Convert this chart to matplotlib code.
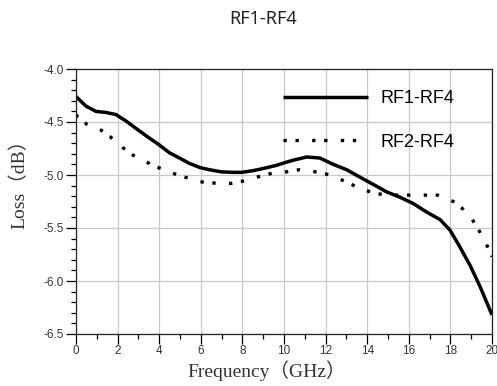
import matplotlib
matplotlib.use("Agg")
import matplotlib.pyplot as plt
from matplotlib.ticker import MultipleLocator, FormatStrFormatter

title = "RF1-RF4"
series_names = ["RF1-RF4", "RF2-RF4"]
xlabel = "Frequency（GHz）"
ylabel = "Loss（dB）"

freq1 = [0.0, 0.48, 0.96, 1.44, 1.92, 2.4, 2.88, 3.37, 3.96, 4.49, 4.97, 5.45,
         5.96, 6.41, 6.97, 7.53, 7.96, 8.49, 8.97, 9.62, 10.1, 10.45, 11.09,
         11.73, 12.37, 13.01, 13.65, 14.3, 14.94, 15.58, 16.22, 16.86, 17.5,
         17.98, 18.46, 18.94, 19.42, 20.0]
loss1 = [-4.26, -4.35, -4.40, -4.41, -4.43, -4.49, -4.56, -4.63, -4.71, -4.79,
         -4.84, -4.89, -4.93, -4.95, -4.97, -4.975, -4.975, -4.96, -4.94, -4.91,
         -4.88, -4.86, -4.83, -4.84, -4.90, -4.95, -5.02, -5.09, -5.16, -5.21,
         -5.27, -5.35, -5.42, -5.52, -5.68, -5.85, -6.05, -6.32]

freq2 = [0.0, 0.08, 0.51, 1.23, 1.65, 2.24, 2.61, 3.32, 3.73, 4.49, 4.94, 5.69,
         6.17, 6.94, 7.42, 8.25, 8.7, 9.5, 9.97, 10.74, 11.25, 12.02, 12.46,
         13.18, 13.63, 14.38, 14.86, 15.66, 16.14, 16.94, 17.39, 18.14, 18.54,
         19.05, 19.31, 19.7, 19.94, 20.0]
loss2 = [-4.43, -4.45, -4.52, -4.58, -4.64, -4.74, -4.80, -4.87, -4.91, -4.975,
         -5.00, -5.05, -5.07, -5.08, -5.08, -5.05, -5.02, -4.98, -4.975, -4.95,
         -4.96, -4.99, -5.02, -5.08, -5.13, -5.17, -5.19, -5.19, -5.19, -5.19,
         -5.19, -5.25, -5.31, -5.42, -5.50, -5.64, -5.74, -5.77]

W, H = 497, 386
fig = plt.figure(figsize=(W / 100, H / 100), dpi=100)
ax = fig.add_axes([76 / W, 1 - 334 / H, 416 / W, 265 / H])

ax.plot(freq1, loss1, color="black", lw=2.5, solid_capstyle="butt",
        solid_joinstyle="round", label=series_names[0])
ax.plot(freq2, loss2, color="black", lw=2.4, ls=(0, (1, 2.6, 1, 4.0)),
        dash_capstyle="butt", label=series_names[1])

ax.set_xlim(0, 20)
ax.set_ylim(-6.5, -4.0)
ax.xaxis.set_major_locator(MultipleLocator(2))
ax.xaxis.set_minor_locator(MultipleLocator(1))
ax.yaxis.set_major_locator(MultipleLocator(0.5))
ax.yaxis.set_minor_locator(MultipleLocator(0.1))
ax.yaxis.set_major_formatter(FormatStrFormatter("%.1f"))
ax.grid(True, which="major", color="#c8c8c8", lw=0.9)
ax.set_axisbelow(True)
ax.tick_params(which="major", direction="out", length=7.5, width=0.9,
               labelsize=8.5, labelcolor="#333333")
ax.tick_params(axis="x", which="major", pad=0.5)
ax.tick_params(axis="y", which="major", pad=1.5)
ax.tick_params(which="minor", direction="out", length=3.5, width=0.9)
for lab in ax.get_xticklabels() + ax.get_yticklabels():
    lab.set_family("Liberation Sans")
for s in ax.spines.values():
    s.set_linewidth(0.9)
    s.set_color("#222222")

fig.text(267 / W, 1 - 371 / H, xlabel, ha="center", va="center",
         family=["Liberation Serif", "Noto Sans CJK SC"], fontsize=14,
         color="#333333")
fig.text(19 / W, 1 - 179 / H, ylabel, ha="center", va="center", rotation=90,
         family=["Liberation Serif", "Noto Sans CJK SC"], fontsize=14,
         color="#333333")

fig.text(263 / W, 1 - 19 / H, title, ha="center", va="center", fontsize=13,
         family="Noto Sans", color="#222222")

leg = ax.legend(loc="upper right", frameon=False, handlelength=4.7,
                handletextpad=0.7,
                prop={"family": "Liberation Sans", "size": 13},
                labelspacing=1.45, borderaxespad=0.4,
                bbox_to_anchor=(0.944, 0.974))

fig.savefig("out.png", dpi=100)
